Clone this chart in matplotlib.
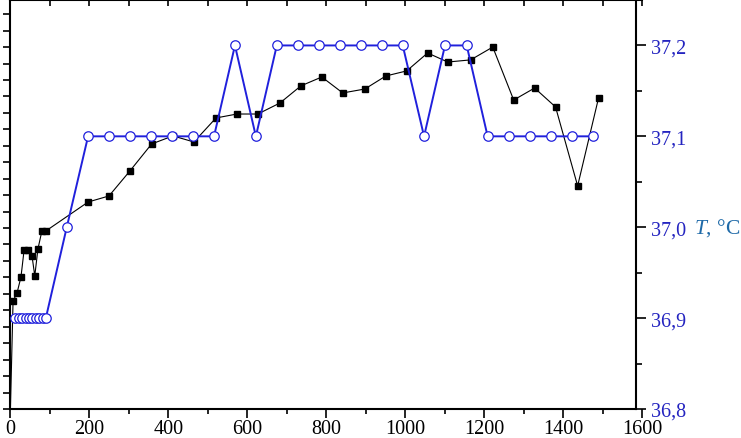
import numpy as np
import matplotlib.pyplot as plt
from matplotlib.ticker import MultipleLocator, FuncFormatter
from matplotlib.transforms import blended_transform_factory

plt.rcParams['font.family'] = ['Liberation Serif', 'DejaVu Serif']
plt.rcParams['mathtext.fontset'] = 'custom'
plt.rcParams['mathtext.it'] = 'Liberation Serif:italic'
plt.rcParams['mathtext.rm'] = 'Liberation Serif'

# black series (left axis, arbitrary units - labels cut off in the original)
sq_time = [0, 7, 17, 27, 35, 45, 55, 62, 70, 80, 90,
           197, 250, 303, 358, 412, 465, 521, 574, 627, 683, 736, 789,
           842, 898, 951, 1004, 1057, 1108, 1166, 1222, 1275, 1328, 1381, 1437, 1490]
sq_val = [-0.3, 6.57, 7.05, 8.02, 9.67, 9.67, 9.30, 8.09, 9.73, 10.82, 10.82,
          12.58, 12.95, 14.47, 16.11, 16.60, 16.23, 17.69, 17.93, 17.93, 18.60, 19.64, 20.18,
          19.21, 19.45, 20.24, 20.55, 21.64, 21.09, 21.22, 22.00, 18.78, 19.51, 18.36, 13.56, 18.91]

# temperature series (right axis)
t_time = [12, 21, 30, 39, 47, 56, 65, 73, 82, 90, 143,
          197, 250, 303, 356, 409, 462, 516, 569, 622, 675, 728, 781,
          834, 888, 941, 994, 1048, 1101, 1156, 1209, 1262, 1316, 1369, 1423, 1476]
t_temp = [36.9, 36.9, 36.9, 36.9, 36.9, 36.9, 36.9, 36.9, 36.9, 36.9, 37.0,
          37.1, 37.1, 37.1, 37.1, 37.1, 37.1, 37.1, 37.2, 37.1, 37.2, 37.2, 37.2,
          37.2, 37.2, 37.2, 37.2, 37.1, 37.2, 37.2, 37.1, 37.1, 37.1, 37.1, 37.1, 37.1]

blue = '#2020dc'
tick_blue = '#2424c0'
label_blue = '#1f6aa8'

fig = plt.figure(figsize=(7.41, 4.39), dpi=100)
ax = fig.add_axes([10.3/741, 29/439, 631.7/741, 409/439])

ax.plot(sq_time, sq_val, color='black', lw=0.8, marker='s', ms=4.3,
        mfc='black', mec='black')
ax.set_xlim(0, 1600)
ax.set_ylim(0, 24.86)
ax.xaxis.set_major_locator(MultipleLocator(200))
ax.xaxis.set_minor_locator(MultipleLocator(100))
ax.yaxis.set_major_locator(MultipleLocator(1))
ax.tick_params(axis='x', which='major', direction='out', length=6.5, width=1.2,
               labelsize=14.5, pad=1)
ax.tick_params(axis='x', which='minor', direction='out', length=3.5, width=1.2)
ax.tick_params(axis='y', which='major', direction='out', length=5, width=1.2,
               labelleft=False)
ax.spines['right'].set_visible(False)
ax.spines['bottom'].set_bounds(0, 1585)
ax.spines['top'].set_bounds(0, 1600)
for s in ['left', 'bottom', 'top']:
    ax.spines[s].set_linewidth(1.5)

top = ax.secondary_xaxis('top')
top.xaxis.set_major_locator(MultipleLocator(100))
top.tick_params(direction='in', length=4, width=1.2, labeltop=False)
top.spines['top'].set_visible(False)

ax2 = ax.twinx()
ax2.plot(t_time, t_temp, color=blue, lw=1.4, marker='o', ms=6.8,
         mfc='white', mec=blue, mew=0.9)
ax2.set_ylim(36.8, 37.25)
ax2.yaxis.set_major_locator(MultipleLocator(0.1))
ax2.yaxis.set_minor_locator(MultipleLocator(0.05))
ax2.yaxis.set_major_formatter(FuncFormatter(lambda v, p: f'{v:.1f}'.replace('.', ',')))
ax2.spines['right'].set_position(('data', 1585))
ax2.spines['right'].set_linewidth(1.5)
for s in ['left', 'top', 'bottom']:
    ax2.spines[s].set_visible(False)
ax2.tick_params(axis='y', which='major', direction='out', length=7, width=1.2,
                labelsize=14.5, labelcolor=tick_blue, pad=3.5)
ax2.tick_params(axis='y', which='minor', direction='out', length=4, width=1.2)

tr = blended_transform_factory(fig.transFigure, ax2.transData)
ax2.text(694/741, 37.0, r'$T$, °C', transform=tr, fontsize=15.5,
         color=label_blue, va='center', ha='left', clip_on=False)

fig.savefig('out.png', dpi=100)
